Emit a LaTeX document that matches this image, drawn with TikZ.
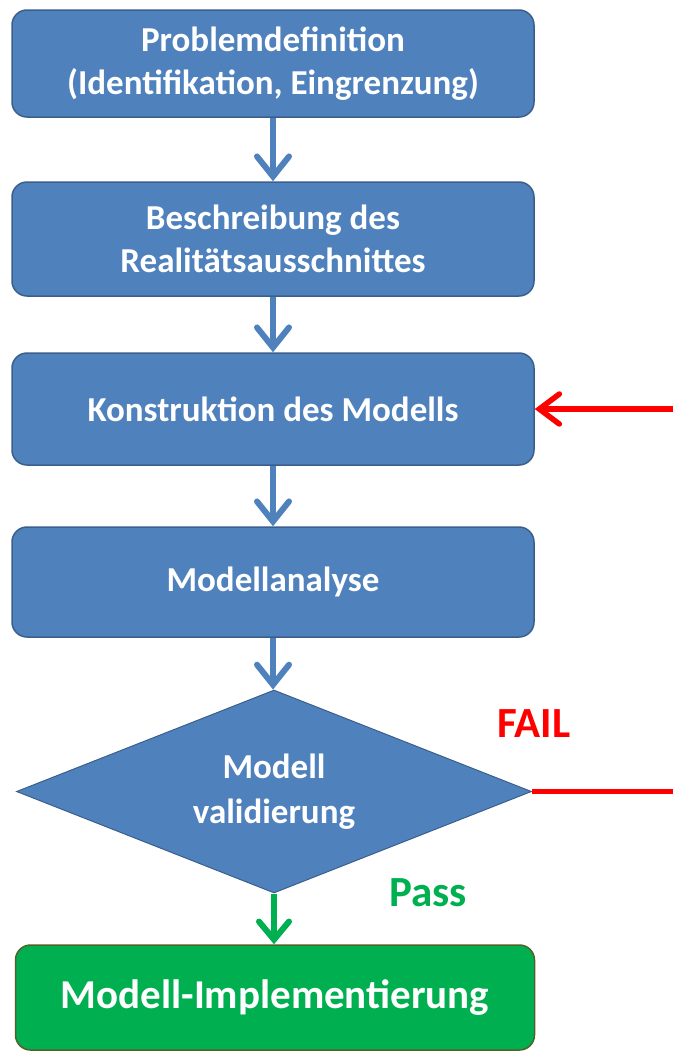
\documentclass[tikz,border=0pt]{standalone}
\usepackage{fontspec}
\setmainfont{Carlito}
\usetikzlibrary{shapes.geometric,arrows.meta}
\definecolor{boxblue}{HTML}{4F81BD}
\definecolor{boxedge}{HTML}{3A5F8C}
\definecolor{okgreen}{HTML}{00B050}
\definecolor{greenedge}{HTML}{4F6228}
\tikzset{
  stepbox/.style={draw=boxedge, line width=1.5pt, fill=boxblue, rounded corners=15pt,
    minimum width=522pt, text=white, font=\bfseries\fontsize{35}{43}\selectfont, align=center, inner sep=0pt},
  decbox/.style={draw=boxedge, line width=1pt, fill=boxblue, diamond, aspect=2.54, minimum width=515pt,
    minimum height=203pt, inner sep=0pt, text=white, font=\bfseries\fontsize{35}{45}\selectfont, align=center},
  endbox/.style={draw=greenedge, line width=1.5pt, fill=okgreen, rounded corners=15pt,
    minimum width=519pt, minimum height=105pt, text=white, font=\bfseries\fontsize{41}{46}\selectfont, inner sep=0pt},
  flow/.style={draw=boxblue, line width=6pt, -{Straight Barb[length=20pt,width=32pt,line cap=round]}},
  passflow/.style={draw=okgreen, line width=6pt, -{Straight Barb[length=18pt,width=30pt,line cap=round]}},
  failflow/.style={draw=red, line width=5.5pt, -{Straight Barb[length=20pt,width=30pt,line cap=round]}},
  failline/.style={draw=red, line width=5.5pt},
  lbl/.style={font=\bfseries\fontsize{43}{48}\selectfont, inner sep=0pt}
}
\begin{document}
\begin{tikzpicture}[x=1pt,y=-1pt]
\useasboundingbox (0,0) rectangle (673,1055);
\node[stepbox, minimum height=107pt] (b1) at (273,63.5) {Problemdefinition\\(Identifikation, Eingrenzung)};
\node[stepbox, minimum height=114pt] (b2) at (273,239) {Beschreibung des\\Realitätsausschnittes};
\node[stepbox, minimum height=112pt] (b3) at (273,409) {Konstruktion des Modells};
\node[stepbox, minimum height=110pt] (b4) at (273,582) {Modellanalyse};
\node[decbox] (d) at (274,791.5) {Modell\\validierung};
\node[endbox] (e) at (275,997.5) {Modell-Implementierung};
\node[lbl, text=red] (fail) at (534,724) {FAIL};
\node[lbl, text=okgreen] (pass) at (428,893) {Pass};
\coordinate (edge) at (673,0);
\draw[flow] (b1.south) -- (b2.north);
\draw[flow] (b2.south) -- (b3.north);
\draw[flow] (b3.south) -- (b4.north);
\draw[flow] (b4.south) -- (b4.south |- d.north);
\draw[passflow] (d.south) -- (d.south |- e.north);
\draw[failline] (d.east) -- (d.east -| edge);
\draw[failflow] (b3.east -| edge) -- (b3.east);
\end{tikzpicture}
\end{document}
